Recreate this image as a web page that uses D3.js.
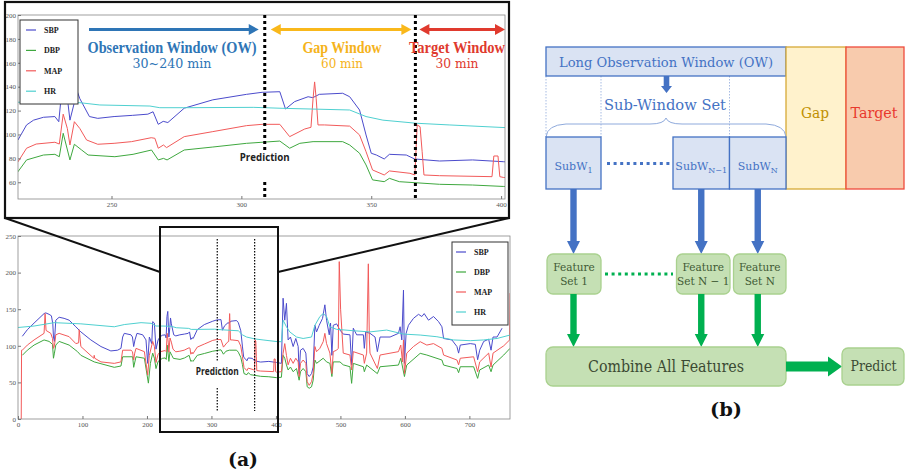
<html>
<script src='https://d3js.org/d3.v7.min.js'></script>
<style>
body {margin:0; background:#fff;}
.tick text {font-family:"Liberation Serif"; font-size:7px; fill:#555;}
.tick line {stroke:#777;}
</style>
<body onload='init()'>
<svg width=905 height=475></svg>
<script>
// vital signs, [minute, value]
var sbp = [[6.7,113],[14.5,122],[24.9,131],[40.4,144],[43,145],[48.2,143],[51.8,141],[54,130],[55,112],[56.5,106],[58.6,135],[63.8,139],[71.5,137.5],[79.3,135],[89.7,126],[97.5,119],[113,108],[128.6,99],[144,93],[154.5,94],[159.7,96.5],[162.3,112],[164.8,117],[175.2,115],[177.5,112],[179.4,99],[181.4,108],[184.5,117],[193.4,115],[198.5,108],[201.1,76],[203.7,112],[207.4,103],[208.9,133],[211.5,131],
  [214,95.4],[217.3,108],[220,112],[223.8,114.4],[228.2,115],[229.7,110.7],[231,140],[232.3,147],[233.3,125],[234,112],[235.5,125],[236.5,138],[237.8,130],[241.5,115],[244.7,113.5],[251,115],[258,116],[264,117],[266,119],[268,108.5],[269.9,111],[271.7,110],[278,122],[289,129],[302,133.6],[308,135.3],[314.8,135.8],[317,121.3],[320.5,127.5],[325.7,131.6],[327.5,130.8],[330,133.6],[339,134.5],[341.7,131.6],[345.5,120.5],[348,99.6],[350,84.3],[352,82.8],[355,79.5],[357,83.4],[363.5,82.8],[366.7,79.5],[376.3,77.8],[389,78.7],
  [401,77.2],[408.5,76],[411.1,165],[413.7,135],[416.3,158],[418.9,108],[422.5,112],[426.7,99],[430.8,110],[434.5,99],[436,62],[438.1,94],[442.2,96.5],[446.4,90],[448.5,62],[451.6,58],[455.2,62],[457.8,71],[460.4,128],[463,119],[467.1,128],[472.3,137.5],[475.9,156],[478.5,135],[482.7,115],[484.7,131],[486.8,87],[488.9,128],[494.1,130],[499.3,121.5],[504.4,116],[514.8,115],[517.4,74],[520,124],[525.2,115],[535.6,115],[537.1,96.5],[539.2,119],[545.9,117],[553.7,112],[557.3,92],[561.5,112],[577,112],[590,117],[592.6,126],[595.2,108],[597.8,176],[599.3,76],[601.9,117],[605.5,128],[613.3,137.5],[621.1,143],[626.3,140],[629.9,144],[636.6,135],[644.4,140],[652.2,133],[657.4,126],[660,110],[672.9,108],[680.7,99],[683.3,90],[685.9,101],[701.4,103],[709.2,102],[712.8,81],[716,94],[722.2,106],[729.9,109],[733.6,94],[736.7,112],[742.9,112],[750.7,124]]
var dbp = [[6.7,87],[14.5,94],[24.9,101],[40.4,108],[48.2,106],[53.5,102],[55,83],[56.5,90],[58.6,101],[63.8,106],[79.3,101],[92.3,92],[97.5,87],[118.2,78],[149.3,70.6],[159.7,72.4],[162.3,85],[177.8,85],[179.4,70.6],[183,85],[196,83],[202.2,49],[205.3,76],[208.9,90],[211.5,83],
  [214,68.9],[217.3,78.7],[223.8,82.8],[228.2,83.4],[229.9,81.4],[231.4,101],[234,78.7],[235.7,91.8],[238.5,87],[241,82.8],[251.3,81.4],[258.3,83.4],[265.4,87],[268,78.7],[270,80],[271.4,78.7],[278,87],[289,89.5],[302,92.6],[314.8,94.5],[318.6,88.5],[322.5,92.6],[327.6,94],[339,94],[341.7,91.2],[345.5,84.3],[348,74.5],[350.5,62],[355,60.5],[357,63.3],[360.8,60.5],[376.3,58.3],[389,57.7],
  [401,56.5],[408.5,57],[411.1,87],[413.7,83],[416.3,74],[418.9,67],[422.5,71],[426.7,64.6],[431.9,69],[436,53],[438.1,64.6],[442.2,69],[446.4,64.6],[448.5,44],[451.6,42],[455.2,44],[457.8,53],[460.4,80.6],[463,76],[473.3,83],[478.5,78],[483.7,76],[486.8,58],[488.9,78],[499.3,78],[504.4,74],[514.8,71.4],[517.4,48.7],[520,76],[535.6,71.4],[537.1,64.6],[540.7,73.7],[557.3,62],[561.5,71.4],[590,73.7],[593.6,83],[599.3,58],[602.9,73.7],[623.7,89.7],[634,87.4],[657.4,80.6],[660,73.7],[680.7,69],[683.3,63.3],[685.9,71.4],[706.6,71.4],[712.8,55.5],[716,67],[729.9,73.7],[733.6,64.6],[736.7,73.7],[753.3,87.4],[763,96.5]]
var mapv = [[5,0],[5.5,94],[6.7,94],[14.5,101],[24.9,108],[40.4,117],[42,144],[43.5,121],[50.8,117],[53.5,110],[55,96.5],[56.5,100],[58.6,115],[63.8,117],[79.3,112.5],[89.7,103],[94,104],[94.9,122],[97.5,99],[117.5,83],[118.2,87],[119,83],[128.6,78],[149.3,76],[159.7,78],[162.3,94],[175.2,94],[177.5,92],[179.4,80.6],[181,90],[183,96.5],[196,92],[201.1,60],[203.7,87],[208.9,106],[211.5,99],
  [214,77.2],[217.3,88.5],[221,92],[228.2,93.5],[229.9,92],[231.4,117],[233,105],[234,91.2],[235.7,110.7],[237.8,105],[240.4,95.4],[244.7,91.8],[251,92.6],[257.7,94],[265.3,97.3],[266.7,96.8],[268,88.5],[270,91.2],[271.2,89],[278,98.2],[289,102.4],[302,107.4],[308,108.5],[314.8,108.5],[318.6,98.2],[324.4,104.6],[326.8,106],[327.6,130],[328.2,144],[328.8,130],[329.5,108],[332,108],[341.7,107],[345.5,99.6],[348,85.6],[350.5,70.3],[355,66.1],[357,69.5],[364.9,67.5],[366.8,66.1],[367.7,108],[368.8,106.5],[369.6,85.6],[370.3,66.1],[376.3,65.5],[396.5,64.7],[397.2,82],[398.8,82],[399.5,64.7],
  [401,64],[408.5,64.6],[411.1,89.7],[413.7,103],[416.3,87],[418.9,74],[422.5,83],[426.7,76],[430.8,83],[434.5,78],[436,58],[438.1,76],[442.2,80.6],[446.4,76],[448.5,51],[451.6,46],[455.2,51],[457.8,62],[460.4,99],[463,92],[468.1,96.5],[473.3,105.6],[475.9,117],[478.5,103],[483.7,90],[486.8,62],[488.9,92],[494.1,94],[496.7,96.5],[498.2,215],[500.3,150],[504.4,90],[514.8,87.4],[517.4,67],[520,92],[535.6,87.4],[537.1,76],[540.7,90],[543.3,212],[544.9,108],[545.9,90],[557.3,69],[561.5,87.4],[590,92],[593.6,101],[596.2,78],[597.8,108],[599.3,62],[602.9,90],[613.3,99],[623.7,105.6],[634,101],[644.4,103],[657.4,96.5],[660,87.4],[680.7,80.6],[683.3,74],[685.9,83],[706.6,85],[712.8,64.6],[716,78],[729.9,90],[733.6,71],[736.7,90],[753.3,100],[762.4,108],[763,172]]
var hr = [[0,125],[24.9,127],[56,131.6],[97.5,130],[149.3,126],[164.8,129],[190.8,131.6],[206.3,130.7],[214,127],[225,127],[237.8,126.6],[245.5,124.7],[264.8,123.8],[268.6,122.4],[277.6,122.4],[304.8,122.7],[316,121.9],[341.7,120.5],[348,115],[354.5,112],[367.3,109.4],[380,108],[402,105.7],[408.5,105.6],[411.1,135],[416.3,126],[421.5,119],[431.9,112],[442.2,110],[455.2,112],[460.4,128],[468.2,140],[473.3,144],[478.5,140],[483.7,126],[494.1,122.5],[520,120.6],[545.9,119],[571.8,121.5],[597.8,116],[623.7,114.7],[649.6,112.4],[675.5,108],[701.4,107],[722.2,108],[742.9,110],[763,114.7]]

var legendNames = ["SBP","DBP","MAP","HR"]
var lineColors = ["#4b4bcc","#3fa83f","#f25a5a","#4fd0d0"]
var zoomTicksX = [250,300,350,400]
var zoomTicksY = [60,80,100,120,140,160,180,200]
var fullTicksX = [0,100,200,300,400,500,600,700]
var fullTicksY = [0,50,100,150,200,250]
var predictAt = 309, targetAt = 367

var subLabels = ["1","N\u22121","N"]
var featureLabels = ["Set 1","Set N \u2212 1","Set N"]

var svg
function init() {
svg = d3.select("svg")

var xT = d3.scaleLinear().domain([214,401.5]).range([18,505])
var yT = d3.scaleLinear().domain([46,200]).range([199,15])
var xB = d3.scaleLinear().domain([0,763]).range([18,510])
var yB = d3.scaleLinear().domain([0,250]).range([419,236])

panel("clipT", xT, yT, zoomTicksX, zoomTicksY)
panel("clipB", xB, yB, fullTicksX, fullTicksY)

// prediction / target markers, top
dotted(xT(predictAt), 15, 150, 3, "3,3")
dotted(xT(predictAt), 182, 199, 3, "3,3")
dotted(xT(targetAt), 15, 199, 3, "3,3")
label("Prediction", xT(predictAt), 157, "Open Sans", 11, "bold", "#222", 50)
// bottom
dotted(xB(predictAt), 239, 361, 1.2, "1.5,1.5")
dotted(xB(predictAt), 388, 411, 1.2, "1.5,1.5")
dotted(xB(targetAt), 239, 411, 1.2, "1.5,1.5")
label("Prediction", xB(predictAt), 371, "Open Sans", 10, "bold", "#222", 43)

legend(20, 20, 58, 84, 20.4, 6)
legend(452, 242, 56, 83, 20, 4)

// window arrows
arrow(89, xT(predictAt)-6, 29.5, "#2e75b6", false)
arrow(xT(predictAt)+6, xT(targetAt)-4, 29.5, "#f9b81b", true)
arrow(xT(targetAt)+4, 505, 29.5, "#e03a2e", true)
label("Observation Window (OW)", 172, 47.5, "Liberation Serif", 16, "bold", "#2e75b6", 169)
label("30~240 min", 172, 63.5, "DejaVu Serif", 13, "normal", "#2e75b6", 79)
label("Gap Window", 342, 47.5, "Liberation Serif", 16, "bold", "#f5b31b", 79)
label("60 min", 342, 63.5, "DejaVu Serif", 13, "normal", "#f5b31b", 42)
label("Target Window", 457, 47.5, "Liberation Serif", 16, "bold", "#e03a2e", 96)
label("30 min", 457, 63.5, "DejaVu Serif", 13, "normal", "#e03a2e", 43)

// zoom frame and connectors
svg.append("rect").attr("x",5).attr("y",2).attr("width",504).attr("height",216).attr("fill","none").attr("stroke","#111").attr("stroke-width",2.2)
svg.append("rect").attr("x",160).attr("y",227).attr("width",118).attr("height",205).attr("fill","none").attr("stroke","#111").attr("stroke-width",2)
svg.append("line").attr("x1",5).attr("y1",218).attr("x2",160).attr("y2",272).attr("stroke","#111").attr("stroke-width",2)
svg.append("line").attr("x1",509).attr("y1",218).attr("x2",278).attr("y2",272).attr("stroke","#111").attr("stroke-width",2)

label("(a)", 243, 459, "DejaVu Serif", 19, "bold", "#111", 30)

diagram()
}

function panel(id, x, y, ticksX, ticksY) {
  var g = svg.append("g")
  var x0 = x.range()[0], x1 = x.range()[1], y0 = y.range()[1], y1 = y.range()[0]
  g.append("clipPath").attr("id", id).append("rect").attr("x", x0).attr("y", y0).attr("width", x1-x0).attr("height", y1-y0)
  var line = d3.line().x(function(d){return x(d[0])}).y(function(d){return y(d[1])})
  g.append("g").attr("clip-path", "url(#"+id+")").selectAll("path")
    .data([sbp, dbp, mapv, hr]).enter().append("path")
    .attr("d", line).attr("fill", "none")
    .attr("stroke", function(d,i){return lineColors[i]})
    .attr("stroke-width", 1).attr("stroke-linejoin", "round")
  g.append("rect").attr("x", x0).attr("y", y0).attr("width", x1-x0).attr("height", y1-y0)
    .attr("fill", "none").attr("stroke", "#888").attr("stroke-width", 0.8)
  g.append("g").attr("transform", "translate(0,"+y1+")")
    .call(d3.axisBottom(x).tickValues(ticksX).tickSize(-3).tickPadding(3).tickFormat(d3.format("d")))
    .call(function(a){a.select(".domain").remove()})
  g.append("g").attr("transform", "translate("+x0+",0)")
    .call(d3.axisLeft(y).tickValues(ticksY).tickSize(-3).tickPadding(2).tickFormat(d3.format("d")))
    .call(function(a){a.select(".domain").remove()})
}

function legend(x, y, w, h, step, pad) {
  var g = svg.append("g").attr("transform", "translate("+x+","+y+")")
  g.append("rect").attr("width", w).attr("height", h).attr("fill", "#fff").attr("stroke", "#333").attr("stroke-width", 1)
  var e = g.selectAll("g").data(legendNames).enter().append("g")
    .attr("transform", function(d,i){return "translate(0,"+(10+i*step)+")"})
  e.append("line").attr("x1", pad).attr("x2", pad+10).attr("stroke", function(d,i){return lineColors[i]}).attr("stroke-width", 1.2)
  e.append("text").attr("x", pad+18).attr("dy", "0.35em").text(function(d){return d})
    .attr("font-family", "Liberation Serif").attr("font-weight", "bold").attr("font-size", 8).attr("fill", "#222")
}

function dotted(x, y1, y2, w, dash) {
  svg.append("line").attr("x1", x).attr("x2", x).attr("y1", y1).attr("y2", y2)
    .attr("stroke", "#000").attr("stroke-width", w).attr("stroke-dasharray", dash)
}

function label(t, x, y, font, size, weight, color, len) {
  var s = svg.append("text").attr("x", x).attr("y", y).attr("dy", "0.35em").attr("text-anchor", "middle")
    .attr("font-family", font).attr("font-size", size).attr("font-weight", weight).attr("fill", color).text(t)
  if (len) s.attr("textLength", len).attr("lengthAdjust", "spacingAndGlyphs")
  return s
}

function arrow(xa, xb, y, color, both) {
  var hl = 10, hw = 5.5
  svg.append("line").attr("x1", both ? xa+hl-1 : xa).attr("x2", xb-hl+1).attr("y1", y).attr("y2", y)
    .attr("stroke", color).attr("stroke-width", 3.2)
  svg.append("path").attr("d", "M"+xb+","+y+"L"+(xb-hl)+","+(y-hw)+"L"+(xb-hl)+","+(y+hw)+"Z").attr("fill", color)
  if (both) svg.append("path").attr("d", "M"+xa+","+y+"L"+(xa+hl)+","+(y-hw)+"L"+(xa+hl)+","+(y+hw)+"Z").attr("fill", color)
}

function box(x0, y0, x1, y1, fill, stroke, r) {
  svg.append("rect").attr("x", x0).attr("y", y0).attr("width", x1-x0).attr("height", y1-y0)
    .attr("rx", r || 0).attr("fill", fill).attr("stroke", stroke).attr("stroke-width", 1.3)
}

function downArrow(cx, y0, y1, color, sw, hw, hl) {
  svg.append("path").attr("fill", color).attr("d",
    "M"+(cx-sw)+","+y0+"L"+(cx+sw)+","+y0+"L"+(cx+sw)+","+(y1-hl)+"L"+(cx+hw)+","+(y1-hl)+
    "L"+cx+","+y1+"L"+(cx-hw)+","+(y1-hl)+"L"+(cx-sw)+","+(y1-hl)+"Z")
}

function diagram() {
  var blue = "#4472c4", green = "#00b050"
  // thin guide lines
  ;[546, 601, 729.5].forEach(function(x){
    svg.append("line").attr("x1", x).attr("x2", x).attr("y1", 76).attr("y2", 137)
      .attr("stroke", "#8faadc").attr("stroke-width", 0.8).attr("stroke-dasharray", "1.5,1.5")
  })
  box(546, 47, 786, 76, "#dae3f3", blue)
  label("Long Observation Window (OW)", 666, 62, "DejaVu Serif", 13.5, "normal", blue, 214)
  box(786, 47, 846, 189, "#fff2cc", "#d6a937")
  box(846, 47, 904, 189, "#f8cbad", "#ee4b3c")
  label("Gap", 815, 113, "DejaVu Serif", 15, "normal", "#bf9000", 28)
  label("Target", 874, 113, "DejaVu Serif", 15, "normal", "#e8392d", 47)
  downArrow(666.5, 76, 93, blue, 2.8, 5.5, 7)
  label("Sub-Window Set", 665, 104.5, "DejaVu Serif", 15, "normal", blue, 122)
  svg.append("path").attr("fill", "none").attr("stroke", "#8faadc").attr("stroke-width", 1)
    .attr("d", "M546,137Q547,125 566,124L650,124Q664,124 666,118Q668,124 682,124L766,124Q785,125 786,137")

  var subBoxes = [[546,601],[673,729.5],[729.5,786]]
  subBoxes.forEach(function(b, i){
    box(b[0], 137, b[1], 189, "#dae3f3", blue)
    var t = svg.append("text").attr("x", (b[0]+b[1])/2).attr("y", 170).attr("text-anchor", "middle")
      .attr("font-family", "DejaVu Serif").attr("font-size", 11).attr("fill", blue)
    t.append("tspan").text("SubW")
    t.append("tspan").attr("font-size", 8).attr("dy", 3).text(subLabels[i])
    downArrow((b[0]+b[1])/2, 189, 254, blue, 3.2, 6.5, 13)
  })
  svg.append("line").attr("x1", 607).attr("x2", 670).attr("y1", 163.5).attr("y2", 163.5)
    .attr("stroke", blue).attr("stroke-width", 3).attr("stroke-dasharray", "3,3.6")

  var featBoxes = [[547,601],[676.5,730],[733.5,786]]
  featBoxes.forEach(function(b, i){
    box(b[0], 254, b[1], 294, "#c5e0b4", "#a9d18e", 6)
    label("Feature", (b[0]+b[1])/2, 267, "DejaVu Serif", 10.5, "normal", "#3f5a35")
    label(featureLabels[i], (b[0]+b[1])/2, 281.5, "DejaVu Serif", 10.5, "normal", "#3f5a35")
    downArrow(subBoxes[i][0]/2+subBoxes[i][1]/2, 294, 347, green, 3.2, 6.5, 13)
  })
  svg.append("line").attr("x1", 605).attr("x2", 673).attr("y1", 274).attr("y2", 274)
    .attr("stroke", green).attr("stroke-width", 3).attr("stroke-dasharray", "3,3.6")

  box(546, 347, 786, 386, "#c5e0b4", "#a9d18e", 7)
  label("Combine All Features", 666, 366, "DejaVu Serif", 16, "normal", "#3b4a33", 156)
  svg.append("path").attr("fill", green)
    .attr("d", "M786,361.5L828,361.5L828,356.5L842,366.5L828,376.5L828,371.5L786,371.5Z")
  box(842, 348, 904, 385, "#c5e0b4", "#a9d18e", 6)
  label("Predict", 873.5, 366.5, "DejaVu Serif", 14, "normal", "#3b4a33", 46)

  label("(b)", 726, 409, "DejaVu Serif", 19, "bold", "#111", 32)
}
</script>
</body>
</html>
